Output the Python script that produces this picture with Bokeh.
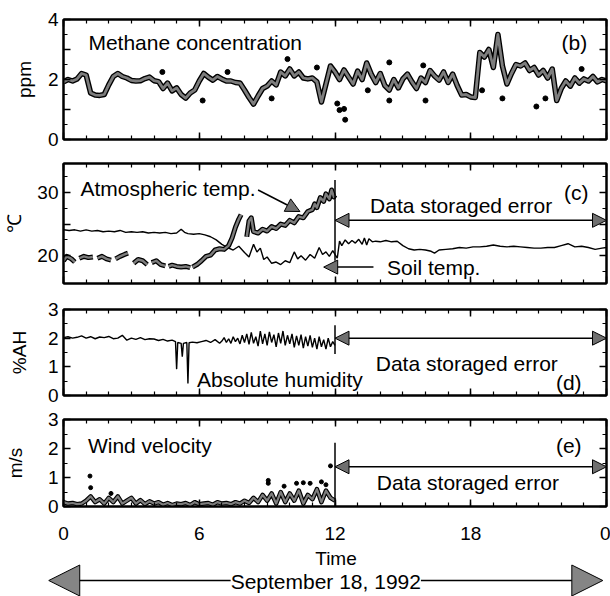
from bokeh.plotting import figure
from bokeh.layouts import column
from bokeh.models import (Range1d, LinearAxis, FixedTicker, Arrow, NormalHead, Label,
                          CustomLabelingPolicy)
from bokeh.embed import file_html
from bokeh.resources import INLINE

FONT = "Liberation Sans"
NAN = float("nan")

# ---------------- data ----------------
x_ticks = [0, 6, 12, 18, 24]
x_tick_labels = {0: "0", 6: "6", 12: "12", 18: "18", 24: "0"}
x_minor = list(range(0, 25))

# (b) methane concentration, ppm, every 0.2 h
methane_t = [round(i * 0.2, 1) for i in range(121)]
methane_v = [1.92, 2.00, 1.95, 2.02, 2.20, 2.15, 1.55, 1.48, 1.47, 1.50,
             1.82, 2.10, 2.20, 2.10, 2.05, 1.97, 1.95, 1.96, 2.03, 2.08,
             1.96, 1.93, 1.70, 1.88, 1.62, 1.72, 1.50, 1.38, 1.55, 1.65,
             1.95, 2.20, 2.08, 1.98, 2.10, 2.02, 1.95, 1.95, 1.90, 1.88,
             1.65, 1.40, 1.18, 1.45, 1.70, 1.78, 1.95, 1.82, 2.25, 2.12,
             2.35, 2.12, 2.25, 2.05, 2.02, 2.05, 1.92, 1.25, 1.85, 2.45,
             2.25, 2.00, 2.32, 2.08, 1.85, 2.28, 2.00, 2.55, 2.18, 1.90,
             2.20, 1.80, 1.65, 2.00, 1.72, 2.02, 2.18, 1.92, 1.70, 2.05,
             1.90, 2.30, 2.12, 1.98, 2.25, 1.90, 2.18, 1.80, 1.48, 1.50,
             1.42, 1.40, 2.90, 2.75, 3.00, 2.40, 3.50, 2.45, 1.85, 2.20,
             2.50, 2.45, 2.55, 2.30, 2.40, 2.15, 2.30, 2.05, 2.35, 1.30,
             1.70, 1.95, 1.78, 2.05, 1.88, 2.02, 1.95, 2.10, 1.92, 2.00,
             1.95]
methane_out_t = [4.37, 6.15, 7.25, 9.2, 9.9, 11.2, 12.1, 12.2, 12.4, 12.45,
                 13.45, 14.4, 14.4, 15.9, 16.0, 18.5, 19.4, 20.9, 21.3, 22.9]
methane_out_v = [2.25, 1.30, 2.25, 1.37, 2.68, 2.40, 1.20, 0.98, 1.02, 0.66,
                 1.64, 2.57, 1.30, 2.47, 1.30, 1.64, 1.37, 1.10, 1.37, 2.35]

# (c) atmospheric temperature (0-12 h, gaps = missing), deg C
atm_t = [0.0, 0.15, 0.35, 0.5, NAN, 0.7, 0.9, 1.1, 1.3, NAN,
         1.5, 1.7, 1.9, 2.1, NAN, 2.3, 2.5, 2.7, 2.85, NAN,
         3.1, 3.3, 3.5, 3.7, NAN, 3.9, 4.1, 4.3, 4.5, NAN,
         4.65, 4.8, 5.0, 5.2, 5.4, 5.6, NAN,
         5.7, 5.9, 6.1, 6.3, 6.5, 6.7, 6.9, 7.1, 7.3, 7.45, 7.6, 7.75, 7.85, NAN,
         8.1, 8.2, 8.3, 8.4, 8.6, 8.8, 9.0, 9.2, 9.4, 9.6, 9.8, 10.0, 10.2,
         10.4, 10.6, 10.8, 11.0, 11.1, 11.2, 11.35, 11.5, 11.6, 11.75, 11.85,
         11.95, 12.0]
atm_v = [19.2, 19.9, 19.5, 19.0, NAN, 19.6, 19.9, 19.7, 19.8, NAN,
         19.6, 19.9, 19.5, 19.3, NAN, 19.5, 19.9, 20.2, 20.4, NAN,
         18.8, 19.4, 19.2, 18.6, NAN, 18.9, 19.2, 18.6, 18.4, NAN,
         18.3, 18.5, 18.3, 18.2, 18.3, 18.1, NAN,
         18.2, 18.6, 19.2, 19.9, 20.1, 20.9, 21.1, 21.0, 21.6, 22.8, 24.5, 25.8, 26.5, NAN,
         23.0, 25.5, 26.0, 23.8, 23.6, 24.2, 23.9, 24.6, 24.3, 25.0, 24.8, 25.6, 25.2,
         26.2, 26.0, 27.0, 27.3, 28.2, 27.6, 29.2, 28.6, 29.8, 29.0, 30.4,
         29.3, 29.6]

# (c) soil temperature, deg C
soil_t = [0.0, 0.25, 0.5, 0.75, 1.0, 1.25, 1.5, 1.75, 2.0, 2.25, 2.5, 2.75,
          3.0, 3.25, 3.5, 3.75, 4.0, 4.25, 4.5, 4.75, 5.0, 5.2, 5.35, 5.5,
          5.75, 6.0, 6.25, 6.5, 6.75, 7.0, 7.25, 7.5, 7.75, 8.0, 8.2, 8.4,
          8.55, 8.7, 8.85, 9.0, 9.2, 9.4, 9.6, 9.8, 10.0, 10.2, 10.35, 10.5,
          10.7, 10.9, 11.1, 11.3, 11.45, 11.6, 11.75, 11.9, 12.0, 12.1, 12.2,
          12.3, 12.45, 12.6, 12.75, 12.9, 13.05, 13.2, 13.3, 13.4, 13.5, 13.65,
          13.8, 14.0, 14.25, 14.5, 14.75, 15.0, 15.25, 15.5, 15.75, 16.0,
          16.25, 16.4, 16.6, 16.9, 17.2, 17.5, 17.8, 18.1, 18.4, 18.7, 19.0,
          19.3, 19.6, 19.9, 20.2, 20.5, 20.8, 21.1, 21.4, 21.7, 22.0, 22.3,
          22.6, 22.9, 23.2, 23.5, 23.8, 24.0]
soil_v = [24.1, 24.0, 24.1, 23.9, 24.1, 23.9, 24.0, 23.8, 23.9, 23.8, 24.0, 23.7,
          23.8, 23.7, 23.8, 23.6, 23.7, 23.6, 23.7, 23.5, 23.6, 24.2, 23.7, 23.5,
          23.4, 23.5, 23.3, 23.0, 22.5, 21.8, 21.3, 20.9, 21.5, 20.5, 19.8, 21.8,
          20.6, 21.2, 19.4, 19.8, 18.8, 19.0, 18.6, 19.2, 18.9, 20.6, 19.5, 20.0,
          19.3, 20.2, 19.6, 21.3, 20.2, 20.6, 19.9, 20.8, 20.2, 19.6, 22.3,
          21.6, 22.5, 21.9, 22.4, 22.0, 22.6, 21.8, 22.8, 21.7, 22.7, 22.2,
          22.3, 22.2, 22.4, 22.2, 22.3, 21.6, 21.1, 20.9, 21.0, 20.9,
          20.7, 20.4, 20.9, 21.0, 21.1, 21.3, 21.2, 21.4, 21.4, 21.5, 21.7,
          21.5, 21.4, 21.5, 21.4, 21.3, 21.2, 21.2, 21.3, 21.3, 21.6, 21.9,
          21.4, 21.5, 21.3, 21.0, 21.2, 21.3]

# (d) absolute humidity, %AH
hum_t = [0.0, 0.2, 0.4, 0.6, 0.8, 1.0, 1.2, 1.4, 1.6, 1.8, 2.0, 2.2, 2.4, 2.6,
         2.8, 3.0, 3.2, 3.4, 3.6, 3.8, 4.0, 4.2, 4.4, 4.6, 4.8, 4.95, 5.0, 5.05,
         5.2, 5.25, 5.3, 5.45, 5.5, 5.55, 5.7, 5.9, 6.1, 6.3, 6.5, 6.7, 6.9,
         7.0, 7.1, 7.2, 7.3, 7.4, 7.5, 7.6, 7.7, 7.8, 7.9, 8.0, 8.1, 8.2, 8.3,
         8.4, 8.5, 8.6, 8.7, 8.8, 8.9, 9.0, 9.1, 9.2, 9.3, 9.4, 9.5, 9.6, 9.7,
         9.8, 9.9, 10.0, 10.1, 10.2, 10.3, 10.4, 10.5, 10.6, 10.7, 10.8, 10.9,
         11.0, 11.1, 11.2, 11.3, 11.4, 11.5, 11.6, 11.7, 11.8, 11.9, 12.0]
hum_v = [2.02, 2.05, 2.00, 2.03, 2.08, 2.00, 2.05, 1.98, 2.04, 2.02, 2.06, 1.98,
         2.00, 2.10, 1.93, 2.00, 1.96, 2.02, 1.95, 1.98, 1.97, 1.92, 1.96, 1.90,
         1.93, 1.88, 0.92, 1.85, 1.82, 1.35, 1.82, 1.85, 0.42, 1.84, 1.86, 1.84,
         1.88, 1.92, 1.85, 1.95, 1.82,
         1.90, 2.02, 1.85, 1.98, 1.82, 2.05, 1.88, 2.00, 1.80, 2.10, 1.85, 2.15,
         1.78, 2.20, 1.82, 2.05, 1.72, 2.25, 1.80, 2.15, 1.75, 2.22, 1.85, 2.12,
         1.70, 2.18, 1.82, 2.25, 1.75, 2.10, 1.80, 2.15, 1.68, 2.08, 1.75, 2.12,
         1.65, 2.05, 1.72, 2.10, 1.68, 2.00, 1.62, 2.05, 1.70, 1.95, 1.62, 2.00,
         1.70, 1.88, 1.75]

# (e) wind velocity, m/s
wind_t = [round(i * 0.2, 1) for i in range(61)]
wind_v = [0.15, 0.10, 0.12, 0.08, 0.10, 0.20, 0.35, 0.15, 0.25, 0.10,
          0.30, 0.15, 0.35, 0.10, 0.20, 0.30, 0.10, 0.22, 0.08, 0.18,
          0.10, 0.15, 0.06, 0.12, 0.05, 0.10, 0.08, 0.12, 0.05, 0.15,
          0.08, 0.10, 0.12, 0.06, 0.15, 0.10, 0.12, 0.08, 0.15, 0.10,
          0.20, 0.12, 0.30, 0.15, 0.40, 0.20, 0.45, 0.10, 0.50, 0.15,
          0.45, 0.20, 0.55, 0.10, 0.40, 0.25, 0.60, 0.15, 0.55, 0.30,
          0.20]
wind_dot_t = [1.17, 1.2, 2.1, 9.05, 9.05, 9.75, 10.3, 10.6, 10.9, 11.4, 11.6, 11.8]
wind_dot_v = [1.05, 0.65, 0.45, 0.90, 0.80, 0.70, 0.80, 0.82, 0.80, 0.85, 0.75, 1.40]

# recording ends at 12 h, the day ends at 24 h
error_start = 12
error_end = 24
day_arrow = (-0.65, 23.75)   # extent of the date arrow, hours

# ---------------- layout constants ----------------
FIG_W = 610
BORDER_L = 63
BORDER_R = 2
HIDE_ALL = CustomLabelingPolicy(code="""
const all = Array.from(indices)
for (const i of all) indices.unset(i)
return indices
""")
HEAD_FILL = "#6f6f6f"


def style_axis(ax, ticks, minor, overrides, show_labels, size="19px", standoff=5):
    ax.ticker = FixedTicker(ticks=ticks, minor_ticks=minor)
    ax.axis_line_color = "black"
    ax.axis_line_width = 2
    ax.major_tick_in = 7
    ax.major_tick_out = 0
    ax.minor_tick_in = 4
    ax.minor_tick_out = 0
    ax.major_tick_line_width = 1.5
    ax.minor_tick_line_width = 1.2
    ax.major_tick_line_color = "black"
    ax.minor_tick_line_color = "black"
    if show_labels:
        ax.major_label_overrides = overrides
        ax.major_label_text_font = FONT
        ax.major_label_text_font_size = size
        ax.major_label_text_color = "black"
        ax.major_label_standoff = standoff
    else:
        ax.major_label_policy = HIDE_ALL
        ax.major_label_text_font_size = "1px"
        ax.major_label_standoff = 0


def make_panel(height, top, bottom, yr, yticks, yminor, yover, ylabel, lab_standoff, show_x):
    p = figure(width=FIG_W, height=height, x_range=Range1d(0, 24), y_range=Range1d(*yr),
               output_backend="svg", toolbar_location=None,
               min_border_left=BORDER_L, min_border_right=BORDER_R,
               min_border_top=top, min_border_bottom=bottom)
    p.outline_line_color = "black"
    p.outline_line_width = 2
    p.xgrid.visible = False
    p.ygrid.visible = False
    p.background_fill_color = "white"
    p.border_fill_color = "white"
    top_ax = LinearAxis()
    right_ax = LinearAxis()
    p.add_layout(top_ax, "above")
    p.add_layout(right_ax, "right")
    style_axis(p.below[0], x_ticks, x_minor, x_tick_labels, show_x, size="19px", standoff=20)
    style_axis(top_ax, x_ticks, x_minor, {}, False)
    style_axis(p.left[0], yticks, yminor, yover, True)
    style_axis(right_ax, yticks, yminor, {}, False)
    yax = p.left[0]
    yax.axis_label = ylabel
    yax.axis_label_text_font = FONT
    yax.axis_label_text_font_size = "19px"
    yax.axis_label_text_font_style = "normal"
    yax.axis_label_text_color = "black"
    yax.axis_label_standoff = lab_standoff
    return p


def text(p, x, y, s, size="21px", align="left"):
    p.add_layout(Label(x=x, y=y, text=s, text_font=FONT, text_font_size=size,
                       text_baseline="middle", text_align=align, text_color="black"))


def head(size, fill=HEAD_FILL):
    return NormalHead(size=size, fill_color=fill, line_color="black", line_width=1)


def error_marker(p, y_line0, y_line1, y_arrow):
    p.add_layout(Arrow(x_start=error_start, y_start=y_line0, x_end=error_start, y_end=y_line1,
                       start=None, end=None, line_color="black", line_width=1.5))
    p.add_layout(Arrow(x_start=error_start, y_start=y_arrow, x_end=error_end, y_end=y_arrow,
                       start=head(14), end=head(14), line_color="black", line_width=1.5))


def band(p, xs, ys, outer=5.5, inner=2.8):
    p.line(xs, ys, line_color="black", line_width=outer, line_join="round")
    p.line(xs, ys, line_color="#7d7d7d", line_width=inner, line_join="round")


# ---------------- (b) methane ----------------
pb = make_panel(151, 19, 12, (0, 4), [0, 1, 2, 3, 4], [0.5, 1.5, 2.5, 3.5],
                {1: "", 3: ""}, "ppm", 10, False)
band(pb, methane_t, methane_v)
pb.scatter(methane_out_t, methane_out_v, size=5, fill_color="black", line_color="black")
text(pb, 1.1, 3.25, "Methane concentration")
text(pb, 23.15, 3.25, "(b)", align="right")

# ---------------- (c) temperatures ----------------
pc = make_panel(145, 12, 13, (15.6, 34.6), [20, 25, 30], [17.5, 22.5, 27.5, 32.5],
                {25: ""}, "℃", 9, False)
pc.line(soil_t, soil_v, line_color="black", line_width=1.4)
band(pc, atm_t, atm_v, outer=5, inner=2.4)
text(pc, 0.75, 30.7, "Atmospheric temp.")
text(pc, 13.55, 27.9, "Data storaged error")
text(pc, 23.2, 30.0, "(c)", align="right")
text(pc, 14.3, 18.2, "Soil temp.")
pc.add_layout(Arrow(x_start=8.6, y_start=30.4, x_end=10.45, y_end=27.0,
                    end=head(14), line_color="black", line_width=1.5))
pc.add_layout(Arrow(x_start=13.7, y_start=18.2, x_end=11.5, y_end=18.2,
                    end=head(14), line_color="black", line_width=1.5))
error_marker(pc, 32.0, 19.2, 25.6)

# ---------------- (d) humidity ----------------
pd_ = make_panel(111, 13, 12, (0, 3), [0, 1, 2, 3], [0.5, 1.5, 2.5], {}, "%AH", 15, False)
pd_.line(hum_t, hum_v, line_color="black", line_width=1.4)
text(pd_, 13.8, 1.1, "Data storaged error")
text(pd_, 5.9, 0.55, "Absolute humidity")
text(pd_, 22.9, 0.45, "(d)", align="right")
error_marker(pd_, 2.45, 1.45, 2.0)

# ---------------- (e) wind ----------------
pe = make_panel(142, 12, 43, (0, 3), [0, 1, 2, 3], [0.5, 1.5, 2.5], {}, "m/s", 19, True)
band(pe, wind_t, wind_v, outer=4.5, inner=2.2)
pe.scatter(wind_dot_t, wind_dot_v, size=4, fill_color="black", line_color="black")
text(pe, 1.08, 2.1, "Wind velocity")
text(pe, 22.9, 2.1, "(e)", align="right")
text(pe, 13.85, 0.83, "Data storaged error")
error_marker(pe, 2.2, 0.0, 1.37)

# ---------------- axis title and date arrow ----------------
PX_PER_H = (FIG_W - BORDER_L - BORDER_R) / 24
F_H = 47
pf = figure(width=FIG_W, height=F_H,
            x_range=Range1d(-BORDER_L / PX_PER_H, 24 + BORDER_R / PX_PER_H),
            y_range=Range1d(0, F_H), output_backend="svg", toolbar_location=None,
            x_axis_location=None, y_axis_location=None, frame_align=False,
            min_border_left=0, min_border_right=0, min_border_top=0, min_border_bottom=0)
pf.outline_line_color = None
pf.grid.visible = False
pf.background_fill_color = "white"
pf.border_fill_color = "white"
text(pf, 12, 38, "Time", size="19px", align="center")
mid = (day_arrow[0] + day_arrow[1]) / 2
for end_x in day_arrow:
    pf.add_layout(Arrow(x_start=mid, y_start=16, x_end=end_x, y_end=16,
                        end=head(31, "#858585"), line_color="black", line_width=1.5))
pf.add_layout(Label(x=mid, y=15, text="September 18, 1992", text_font=FONT,
                    text_font_size="21px", text_baseline="middle", text_align="center",
                    text_color="black", background_fill_color="white"))

layout = column(pb, pc, pd_, pe, pf, spacing=0)
open("out.html", "w").write(file_html(layout, INLINE))
